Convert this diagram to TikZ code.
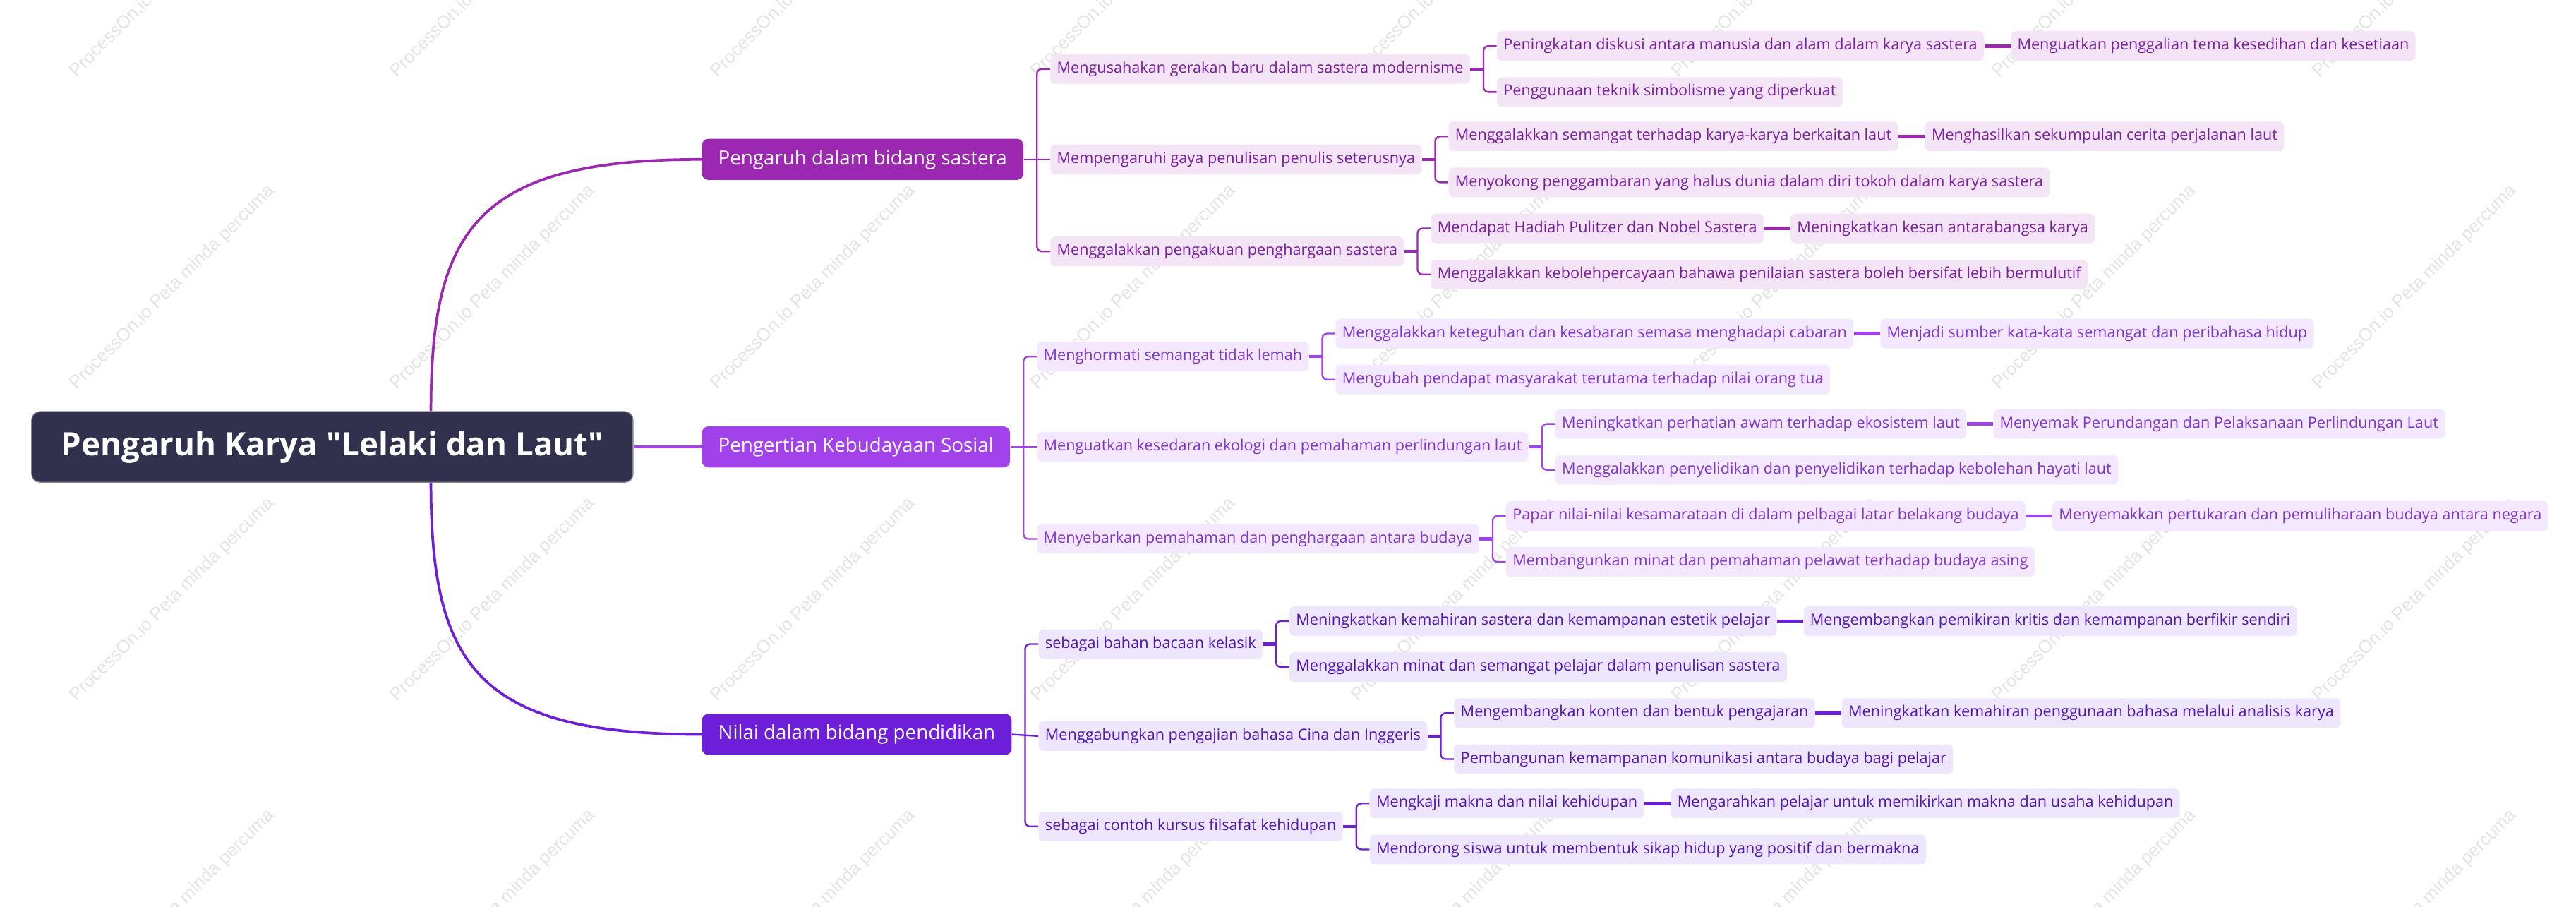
\documentclass[tikz,border=0pt]{standalone}
\usepackage{fontspec}
\setmainfont{Open Sans}
\newfontfamily\wmfont{Liberation Sans}
\usetikzlibrary{calc}
\definecolor{rootc}{HTML}{31304D}
\definecolor{ca}{HTML}{9C27B0}\definecolor{fa}{HTML}{F3E5F5}\definecolor{ta}{HTML}{7B1FA2}
\definecolor{cb}{HTML}{A142EA}\definecolor{fb}{HTML}{F3E8FD}\definecolor{tb}{HTML}{8035CC}
\definecolor{cc}{HTML}{6D1ED9}\definecolor{fc}{HTML}{EEE6FC}\definecolor{tc}{HTML}{5016B5}
\definecolor{wm}{HTML}{E4E4E4}
\tikzset{
 rootbox/.style={fill=rootc, draw=rootc!60, line width=0.6pt, text=white, rounded corners=5pt, minimum height=43pt, inner xsep=18pt, inner ysep=0pt, font=\fontsize{19.6}{22}\selectfont\bfseries},
 mainbox/.style={fill=#1, text=white, rounded corners=4pt, minimum height=25pt, inner xsep=10pt, inner ysep=0pt, font=\fontsize{11.9}{14}\selectfont},
 leafbox/.style={rounded corners=3pt, minimum height=18pt, inner xsep=4pt, inner ysep=0pt, font=\fontsize{9.3}{11}\selectfont},
 leafa/.style={leafbox, fill=fa, text=ta},
 leafb/.style={leafbox, fill=fb, text=tb},
 leafc/.style={leafbox, fill=fc, text=tc},
 rootlink/.style={line width=1.6pt},
 spine/.style={line width=1pt, rounded corners=3pt},
 stublink/.style={line width=1.8pt},
 barlink/.style={line width=2pt},
 wmark/.style={text=wm, rotate=45, font=\wmfont\fontsize{11}{13}\selectfont, inner sep=0pt},
}
% child node placed 16pt right of its parent, at an absolute y
\newcommand\kid[5]{%
 \coordinate (#2-x) at ([xshift=16pt]#3.east);
 \coordinate (#2-y) at (0,#4);
 \node[#1, anchor=west] (#2) at (#2-x |- #2-y) {#5};}
% two children with a forked connector
\newcommand\forktwo[4]{% colour, parent, child1, child2
 \draw[stublink,#1] (#2.east) -- ([xshift=8pt]#2.east);
 \draw[spine,#1] ([xshift=8pt]#2.east) |- (#3.west);
 \draw[spine,#1] ([xshift=8pt]#2.east) |- (#4.west);}
\newcommand\forkthree[5]{% colour, parent, child1, child2 (level), child3
 \draw[spine,#1] (#2.east) -- (#4.west);
 \draw[spine,#1] ([xshift=8pt]#2.east) |- (#3.west);
 \draw[spine,#1] ([xshift=8pt]#2.east) |- (#5.west);}
\newcommand\linkone[3]{\draw[barlink,#1] (#2.east) -- (#3.west);}
\begin{document}
\begin{tikzpicture}[x=1pt,y=-1pt]
\useasboundingbox (0,0) rectangle (1568,552);
\fill[white] (0,0) rectangle (1568,552);
\begin{scope}
\clip (0,0) rectangle (1568,552);
\foreach \i in {0,...,7}{\foreach \j in {0,...,3}{
 \node[wmark] (wm-\i-\j) at ({105+195*\i},{-15+190*\j}) {ProcessOn.io Peta minda percuma};}}
\end{scope}
% root and main branches
\node[rootbox, anchor=west] (root) at (19,272) {Pengaruh Karya \textquotedbl Lelaki dan Laut\textquotedbl};
\node[mainbox=ca, anchor=west] (A) at (427,97) {Pengaruh dalam bidang sastera};
\node[mainbox=cb, anchor=west] (B) at (427,272) {Pengertian Kebudayaan Sosial};
\node[mainbox=cc, anchor=west] (C) at (427,447) {Nilai dalam bidang pendidikan};
\draw[rootlink,ca] ([xshift=60pt]root.north) .. controls ([xshift=60pt,yshift=111pt]root.north) and ([xshift=-137pt]A.west) .. (A.west);
\draw[rootlink,cb] (root.east) -- (B.west);
\draw[rootlink,cc] ([xshift=60pt]root.south) .. controls ([xshift=60pt,yshift=-111pt]root.south) and ([xshift=-137pt]C.west) .. (C.west);
% branch A
\kid{leafa}{A1}{A}{42}{Mengusahakan gerakan baru dalam sastera modernisme}
\kid{leafa}{A2}{A}{97}{Mempengaruhi gaya penulisan penulis seterusnya}
\kid{leafa}{A3}{A}{153}{Menggalakkan pengakuan penghargaan sastera}
\kid{leafa}{A11}{A1}{28}{Peningkatan diskusi antara manusia dan alam dalam karya sastera}
\kid{leafa}{A12}{A1}{56}{Penggunaan teknik simbolisme yang diperkuat}
\kid{leafa}{A111}{A11}{28}{Menguatkan penggalian tema kesedihan dan kesetiaan}
\kid{leafa}{A21}{A2}{83}{Menggalakkan semangat terhadap karya-karya berkaitan laut}
\kid{leafa}{A22}{A2}{111}{Menyokong penggambaran yang halus dunia dalam diri tokoh dalam karya sastera}
\kid{leafa}{A211}{A21}{83}{Menghasilkan sekumpulan cerita perjalanan laut}
\kid{leafa}{A31}{A3}{139}{Mendapat Hadiah Pulitzer dan Nobel Sastera}
\kid{leafa}{A32}{A3}{167}{Menggalakkan kebolehpercayaan bahawa penilaian sastera boleh bersifat lebih bermulutif}
\kid{leafa}{A311}{A31}{139}{Meningkatkan kesan antarabangsa karya}
\forkthree{ca}{A}{A1}{A2}{A3}
\forktwo{ca}{A1}{A11}{A12}\linkone{ca}{A11}{A111}
\forktwo{ca}{A2}{A21}{A22}\linkone{ca}{A21}{A211}
\forktwo{ca}{A3}{A31}{A32}\linkone{ca}{A31}{A311}
% branch B
\kid{leafb}{B1}{B}{217}{Menghormati semangat tidak lemah}
\kid{leafb}{B2}{B}{272}{Menguatkan kesedaran ekologi dan pemahaman perlindungan laut}
\kid{leafb}{B3}{B}{328}{Menyebarkan pemahaman dan penghargaan antara budaya}
\kid{leafb}{B11}{B1}{203}{Menggalakkan keteguhan dan kesabaran semasa menghadapi cabaran}
\kid{leafb}{B12}{B1}{231}{Mengubah pendapat masyarakat terutama terhadap nilai orang tua}
\kid{leafb}{B111}{B11}{203}{Menjadi sumber kata-kata semangat dan peribahasa hidup}
\kid{leafb}{B21}{B2}{258}{Meningkatkan perhatian awam terhadap ekosistem laut}
\kid{leafb}{B22}{B2}{286}{Menggalakkan penyelidikan dan penyelidikan terhadap kebolehan hayati laut}
\kid{leafb}{B211}{B21}{258}{Menyemak Perundangan dan Pelaksanaan Perlindungan Laut}
\kid{leafb}{B31}{B3}{314}{Papar nilai-nilai kesamarataan di dalam pelbagai latar belakang budaya}
\kid{leafb}{B32}{B3}{342}{Membangunkan minat dan pemahaman pelawat terhadap budaya asing}
\kid{leafb}{B311}{B31}{314}{Menyemakkan pertukaran dan pemuliharaan budaya antara negara}
\forkthree{cb}{B}{B1}{B2}{B3}
\forktwo{cb}{B1}{B11}{B12}\linkone{cb}{B11}{B111}
\forktwo{cb}{B2}{B21}{B22}\linkone{cb}{B21}{B211}
\forktwo{cb}{B3}{B31}{B32}\linkone{cb}{B31}{B311}
% branch C
\kid{leafc}{C1}{C}{392}{sebagai bahan bacaan kelasik}
\kid{leafc}{C2}{C}{448}{Menggabungkan pengajian bahasa Cina dan Inggeris}
\kid{leafc}{C3}{C}{503}{sebagai contoh kursus filsafat kehidupan}
\kid{leafc}{C11}{C1}{378}{Meningkatkan kemahiran sastera dan kemampanan estetik pelajar}
\kid{leafc}{C12}{C1}{406}{Menggalakkan minat dan semangat pelajar dalam penulisan sastera}
\kid{leafc}{C111}{C11}{378}{Mengembangkan pemikiran kritis dan kemampanan berfikir sendiri}
\kid{leafc}{C21}{C2}{434}{Mengembangkan konten dan bentuk pengajaran}
\kid{leafc}{C22}{C2}{462}{Pembangunan kemampanan komunikasi antara budaya bagi pelajar}
\kid{leafc}{C211}{C21}{434}{Meningkatkan kemahiran penggunaan bahasa melalui analisis karya}
\kid{leafc}{C31}{C3}{489}{Mengkaji makna dan nilai kehidupan}
\kid{leafc}{C32}{C3}{517}{Mendorong siswa untuk membentuk sikap hidup yang positif dan bermakna}
\kid{leafc}{C311}{C31}{489}{Mengarahkan pelajar untuk memikirkan makna dan usaha kehidupan}
\forkthree{cc}{C}{C1}{C2}{C3}
\forktwo{cc}{C1}{C11}{C12}\linkone{cc}{C11}{C111}
\forktwo{cc}{C2}{C21}{C22}\linkone{cc}{C21}{C211}
\forktwo{cc}{C3}{C31}{C32}\linkone{cc}{C31}{C311}
\end{tikzpicture}
\end{document}
